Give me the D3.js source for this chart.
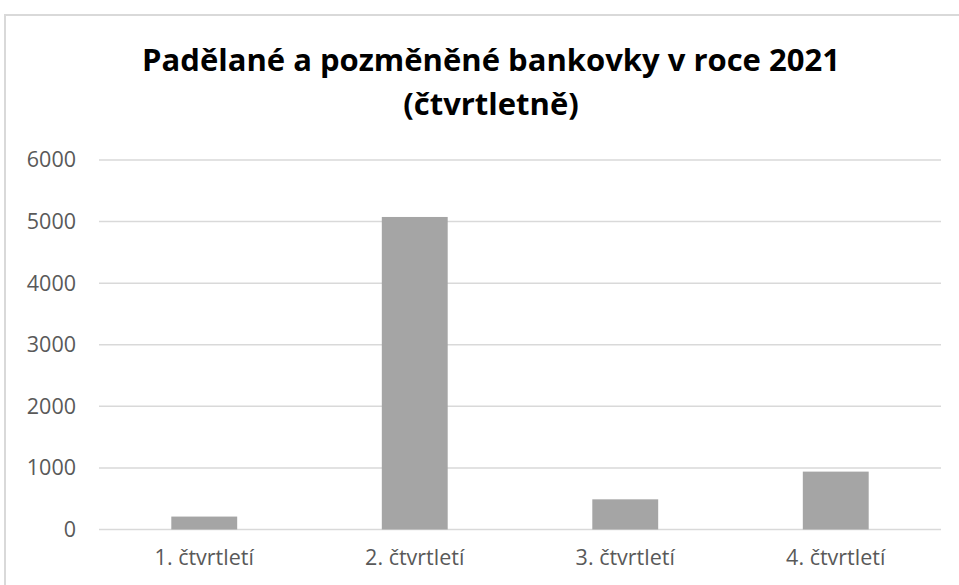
<!DOCTYPE html>
<html>
<head>
<meta charset="UTF-8">
<style>
body { margin: 0; background: #fff; }
svg { display: block; }
</style>
</head>
<body>
<svg width="959" height="585"></svg>
<script src="https://cdn.jsdelivr.net/npm/d3@7"></script>
<script>
var categories = ["1. čtvrtletí", "2. čtvrtletí", "3. čtvrtletí", "4. čtvrtletí"];
var values = [210, 5075, 490, 940];
var yTicks = [0, 1000, 2000, 3000, 4000, 5000, 6000];
var titleLines = ["Padělané a pozměněné bankovky v roce 2021", "(čtvrtletně)"];

var svg = d3.select("svg"),
    margin = {top: 160, right: 18, bottom: 55.5, left: 99},
    width = 959 - margin.left - margin.right,
    height = 585 - margin.top - margin.bottom;

// chart frame (cropped on the right and bottom)
svg.append("rect")
    .attr("x", 5).attr("y", 15)
    .attr("width", 1000).attr("height", 1000)
    .attr("fill", "#fff")
    .attr("stroke", "#d9d9d9")
    .attr("stroke-width", 2);

svg.selectAll(".title")
    .data(titleLines)
    .enter().append("text")
      .attr("class", "title")
      .attr("x", 491)
      .attr("y", function(d, i) { return 71 + i * 44; })
      .attr("text-anchor", "middle")
      .style("font-family", "'Open Sans', sans-serif")
      .style("font-weight", "bold")
      .style("font-size", "31px")
      .style("fill", "#000")
      .text(function(d) { return d; });

var g = svg.append("g").attr("transform", "translate(" + margin.left + "," + margin.top + ")");

var x = d3.scaleBand()
    .domain(categories)
    .range([0, width])
    .paddingInner(0.687)
    .paddingOuter(0.687 / 2);

var y = d3.scaleLinear().domain([0, 6000]).range([height, 0]);

// gridlines
g.append("g")
    .selectAll("line")
    .data(yTicks)
    .enter().append("line")
      .attr("x1", 0).attr("x2", width)
      .attr("y1", function(d) { return y(d); })
      .attr("y2", function(d) { return y(d); })
      .attr("stroke", "#d9d9d9")
      .attr("stroke-width", 1.5);

g.append("g")
    .selectAll("rect")
    .data(values)
    .enter().append("rect")
      .attr("x", function(d, i) { return x(categories[i]); })
      .attr("y", function(d) { return y(d); })
      .attr("width", x.bandwidth())
      .attr("height", function(d) { return height - y(d); })
      .attr("fill", "#a5a5a5");

var yAxis = g.append("g")
    .call(d3.axisLeft(y).tickValues(yTicks).tickFormat(d3.format("d")).tickSize(0).tickPadding(23));
yAxis.select(".domain").remove();

var xAxis = g.append("g")
    .attr("transform", "translate(0," + height + ")")
    .call(d3.axisBottom(x).tickSize(0).tickPadding(20));
xAxis.select(".domain").remove();

g.selectAll(".tick text")
    .style("font-family", "'Open Sans', sans-serif")
    .style("font-size", "21.5px")
    .style("fill", "#595959");
</script>
</body>
</html>
